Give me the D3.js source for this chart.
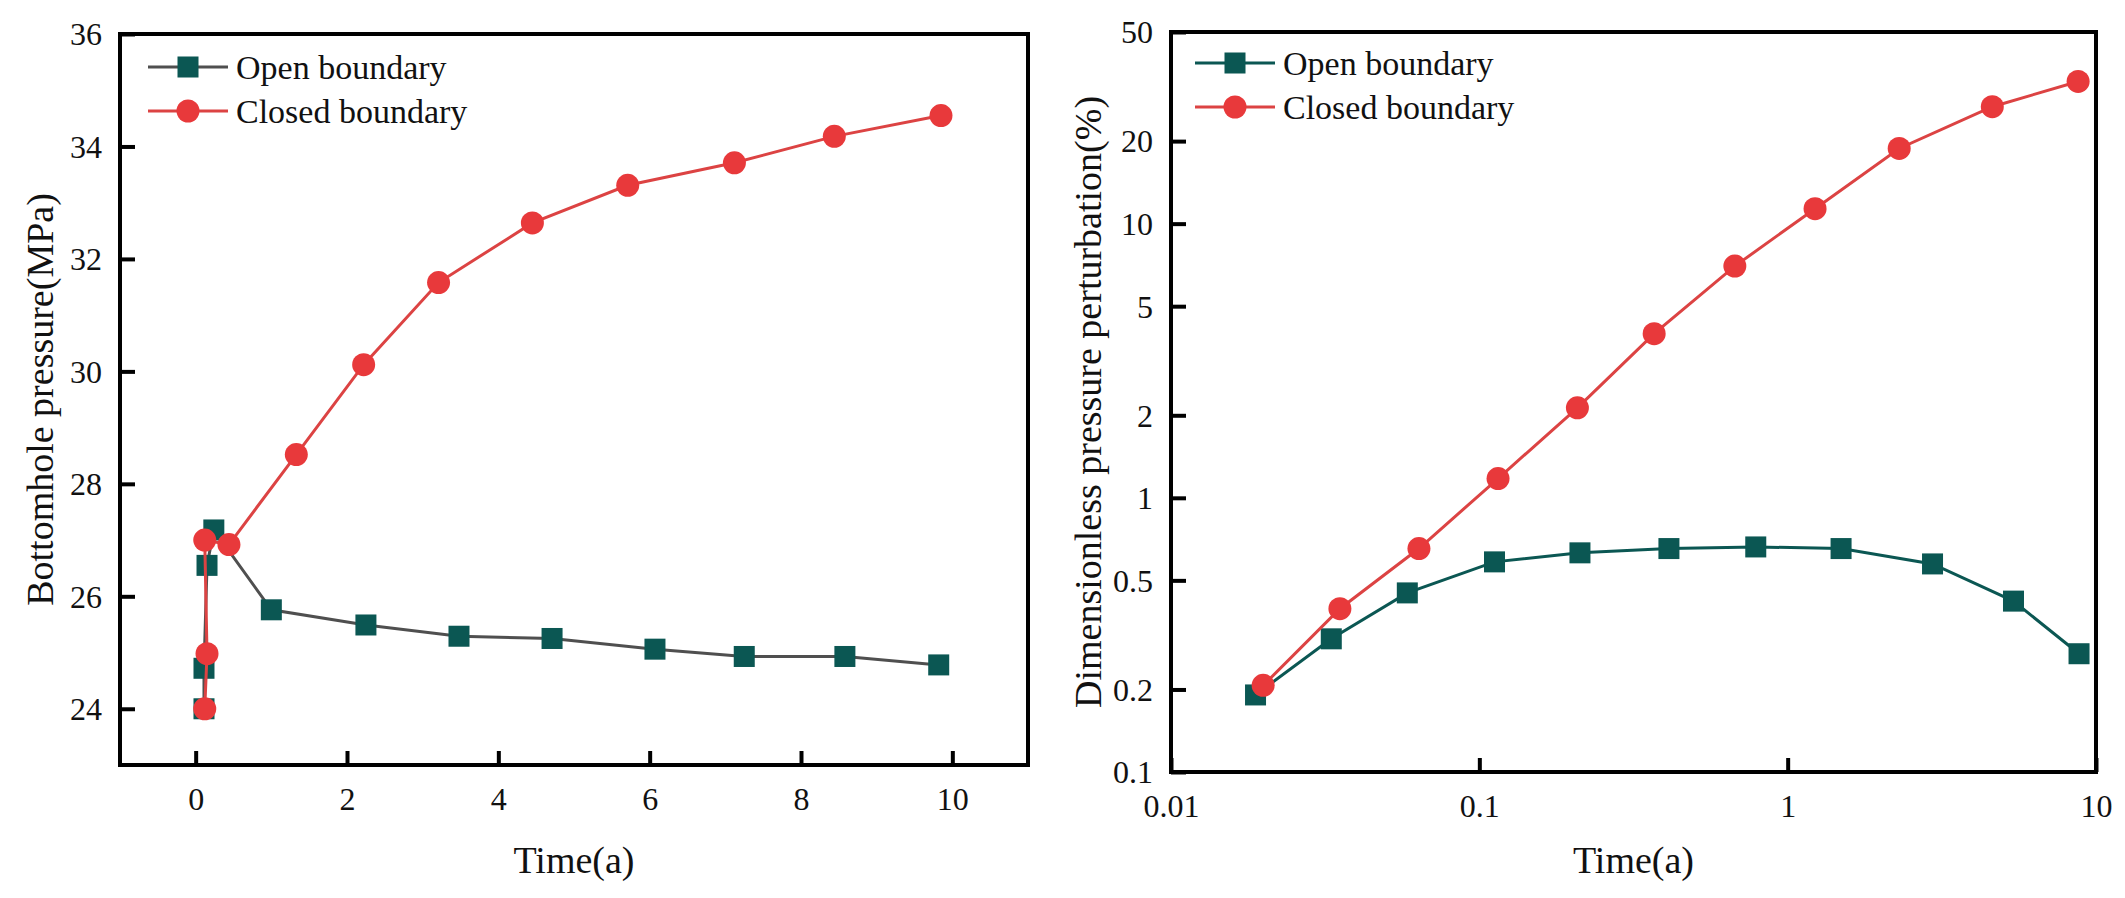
<!DOCTYPE html>
<html>
<head>
<meta charset="utf-8">
<script src="https://cdn.jsdelivr.net/npm/d3@7"></script>
<style>
  body { margin: 0; background: #fff; }
  svg { display: block; }
  svg text { font-family: "Liberation Serif", "Times New Roman", serif; }
</style>
</head>
<body>
<div id="chart"></div>
<script>
// left panel: bottomhole pressure vs time
const leftTimeOpen = [0.11, 0.11, 0.15, 0.24, 1.0, 2.25, 3.48, 4.71, 6.07, 7.25, 8.58, 9.82];
const leftPresOpen = [24.0, 24.72, 26.55, 27.18, 25.76, 25.49, 25.29, 25.25, 25.06, 24.93, 24.93, 24.78];
const leftTimeClosed = [0.12, 0.15, 0.12, 0.44, 1.33, 2.22, 3.21, 4.45, 5.71, 7.12, 8.44, 9.85];
const leftPresClosed = [24.0, 24.98, 27.0, 26.92, 28.52, 30.12, 31.58, 32.64, 33.31, 33.71, 34.18, 34.55];
const leftXTicks = [0, 2, 4, 6, 8, 10];
const leftYTicks = [24, 26, 28, 30, 32, 34, 36];

// right panel: dimensionless pressure perturbation (log-log)
const rightTimeOpen = [0.0188, 0.0331, 0.0584, 0.112, 0.212, 0.412, 0.788, 1.49, 2.95, 5.40, 8.81];
const rightPertOpen = [0.191, 0.306, 0.450, 0.584, 0.630, 0.653, 0.662, 0.653, 0.574, 0.420, 0.270];
const rightTimeClosed = [0.0199, 0.0353, 0.0637, 0.115, 0.208, 0.369, 0.674, 1.227, 2.30, 4.61, 8.75];
const rightPertClosed = [0.207, 0.394, 0.653, 1.176, 2.13, 3.97, 7.0, 11.34, 18.8, 26.7, 33.0];
const rightXTicks = [0.01, 0.1, 1, 10];
const rightYTicks = [0.1, 0.2, 0.5, 1, 2, 5, 10, 20, 50];

const seriesNames = ["Open boundary", "Closed boundary"];

const SERIF = '"Liberation Serif", "Times New Roman", serif';
const TEAL = "#0b5753";
const RED = "#e8393b";
const RED_LINE = "#dc4343";
const GREY_LINE = "#4f4f4f";

const svg = d3.select("#chart").append("svg")
  .attr("width", 2125)
  .attr("height", 898)
  .style("font-family", SERIF);

function zip(xs, ys) {
  return xs.map((x, i) => ({ x, y: ys[i] }));
}

function drawPanel(cfg) {
  const g = svg.append("g");
  const x = cfg.x, y = cfg.y;
  const [x0, x1] = x.range();
  const [y0, y1] = y.range(); // y0 bottom, y1 top

  // series: lines first, then markers
  cfg.series.forEach(s => {
    const line = d3.line().x(d => x(d.x)).y(d => y(d.y));
    g.append("path")
      .datum(s.data)
      .attr("fill", "none")
      .attr("stroke", s.lineColor)
      .attr("stroke-width", 3)
      .attr("d", line);
    if (s.shape === "square") {
      g.selectAll(null).data(s.data).enter().append("rect")
        .attr("x", d => x(d.x) - 10.5)
        .attr("y", d => y(d.y) - 10.5)
        .attr("width", 21)
        .attr("height", 21)
        .attr("fill", TEAL);
    } else {
      g.selectAll(null).data(s.data).enter().append("circle")
        .attr("cx", d => x(d.x))
        .attr("cy", d => y(d.y))
        .attr("r", 11.5)
        .attr("fill", RED);
    }
  });

  // axes with inward ticks
  const xAxis = d3.axisBottom(x).tickValues(cfg.xTicks).tickFormat(cfg.xFormat)
    .tickSize(-14).tickPadding(22);
  const yAxis = d3.axisLeft(y).tickValues(cfg.yTicks).tickFormat(cfg.yFormat)
    .tickSize(-15).tickPadding(18);

  const gx = g.append("g").attr("transform", `translate(0,${y0})`).call(xAxis);
  const gy = g.append("g").attr("transform", `translate(${x0},0)`).call(yAxis);
  [gx, gy].forEach(a => {
    a.attr("font-family", SERIF).attr("font-size", 32);
    a.select(".domain").remove();
    a.selectAll(".tick line").attr("stroke", "#000").attr("stroke-width", 4);
    a.selectAll(".tick text")
      .attr("fill", "#111")
      .style("font-family", SERIF)
      .style("font-size", "32px");
  });
  gx.selectAll(".tick text").attr("dy", "0.71em");
  gy.selectAll(".tick text").attr("dy", "0.34em");

  // frame
  g.append("rect")
    .attr("x", x0).attr("y", y1)
    .attr("width", x1 - x0).attr("height", y0 - y1)
    .attr("fill", "none")
    .attr("stroke", "#000")
    .attr("stroke-width", 4);

  // axis titles
  g.append("text")
    .attr("x", (x0 + x1) / 2)
    .attr("y", 860)
    .attr("text-anchor", "middle")
    .attr("dominant-baseline", "central")
    .style("font-size", "38px")
    .attr("fill", "#111")
    .text("Time(a)");
  g.append("text")
    .attr("transform", `translate(${cfg.yTitleX},${(y0 + y1) / 2}) rotate(-90)`)
    .attr("text-anchor", "middle")
    .attr("dominant-baseline", "central")
    .style("font-size", "38px")
    .attr("fill", "#111")
    .text(cfg.yTitle);

  // legend
  const lg = g.append("g");
  cfg.series.forEach((s, i) => {
    const ly = cfg.legend.y + i * 44;
    const lx = cfg.legend.x;
    lg.append("line")
      .attr("x1", lx).attr("x2", lx + 80)
      .attr("y1", ly).attr("y2", ly)
      .attr("stroke", s.lineColor)
      .attr("stroke-width", 3);
    if (s.shape === "square") {
      lg.append("rect")
        .attr("x", lx + 40 - 10.5).attr("y", ly - 10.5)
        .attr("width", 21).attr("height", 21)
        .attr("fill", TEAL);
    } else {
      lg.append("circle")
        .attr("cx", lx + 40).attr("cy", ly).attr("r", 11.5)
        .attr("fill", RED);
    }
    lg.append("text")
      .attr("x", lx + 88)
      .attr("y", ly)
      .attr("dominant-baseline", "central")
      .style("font-size", "34px")
      .attr("fill", "#111")
      .text(seriesNames[i]);
  });
}

// left panel
drawPanel({
  x: d3.scaleLinear().domain([-1, 11]).range([120, 1028]),
  y: d3.scaleLinear().domain([23, 36]).range([765, 34]),
  xTicks: leftXTicks,
  yTicks: leftYTicks,
  xFormat: d3.format("d"),
  yFormat: d3.format("d"),
  yTitle: "Bottomhole pressure(MPa)",
  yTitleX: 40,
  legend: { x: 148, y: 67 },
  series: [
    { data: zip(leftTimeOpen, leftPresOpen), shape: "square", lineColor: GREY_LINE },
    { data: zip(leftTimeClosed, leftPresClosed), shape: "circle", lineColor: RED_LINE }
  ]
});

// right panel
drawPanel({
  x: d3.scaleLog().domain([0.01, 10]).range([1171, 2096]),
  y: d3.scaleLog().domain([0.1, 50]).range([772, 32]),
  xTicks: rightXTicks,
  yTicks: rightYTicks,
  xFormat: d => String(d),
  yFormat: d => String(d),
  yTitle: "Dimensionless pressure perturbation(%)",
  yTitleX: 1088,
  legend: { x: 1195, y: 63 },
  series: [
    { data: zip(rightTimeOpen, rightPertOpen), shape: "square", lineColor: TEAL },
    { data: zip(rightTimeClosed, rightPertClosed), shape: "circle", lineColor: RED_LINE }
  ]
});
</script>
</body>
</html>
